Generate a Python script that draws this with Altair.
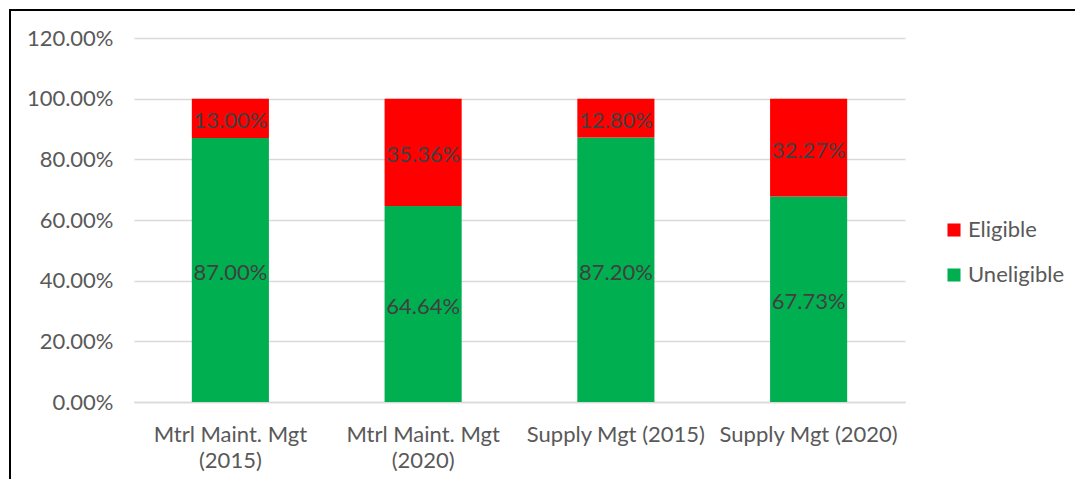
import altair as alt
import pandas as pd

categories = ["Mtrl Maint. Mgt\n(2015)", "Mtrl Maint. Mgt\n(2020)", "Supply Mgt (2015)", "Supply Mgt (2020)"]
uneligible = [0.8700, 0.6464, 0.8720, 0.6773]
eligible = [0.1300, 0.3536, 0.1280, 0.3227]
series = ["Eligible", "Uneligible"]
colors = ["#FF0000", "#00B050"]

rows = []
for c, u, e in zip(categories, uneligible, eligible):
    rows.append({"category": c, "series": "Uneligible", "value": u, "ord": 0})
    rows.append({"category": c, "series": "Eligible", "value": e, "ord": 1})
df = pd.DataFrame(rows)

FONT = "Lato"
FS = 22
W, H = 771, 364

base = alt.Chart(df).transform_stack(
    stack="value", groupby=["category"], as_=["y0", "y1"], sort=[alt.SortField("ord")]
).transform_calculate(mid="(datum.y0 + datum.y1) / 2")

xenc = alt.X(
    "category:N", sort=categories, title=None,
    scale=alt.Scale(paddingInner=0.6, paddingOuter=0.3),
    axis=alt.Axis(labelAngle=0, labelExpr="split(datum.value, '\\n')", labelFontSize=FS,
                  labelColor="#595959", labelFont=FONT, labelPadding=22, ticks=False,
                  domainColor="#D9D9D9", domainWidth=1.3, labelLineHeight=26, grid=False,
                  labelBaseline="top"),
)

bars = base.mark_bar().encode(
    x=xenc,
    y=alt.Y("y0:Q", title=None, scale=alt.Scale(domain=[0, 1.2]),
            axis=alt.Axis(format=".2%", values=[0, 0.2, 0.4, 0.6, 0.8, 1.0, 1.2], labelFontSize=FS,
                          labelColor="#595959", labelFont=FONT, labelPadding=21, ticks=False,
                          domain=False, gridColor="#D9D9D9", gridWidth=1.3)),
    y2="y1:Q",
    color=alt.Color("series:N", scale=alt.Scale(domain=series, range=colors),
                    legend=alt.Legend(title=None, orient="none", legendX=809, legendY=181,
                                      symbolType="square", symbolSize=170, symbolStrokeWidth=0,
                                      labelFontSize=FS, labelColor="#595959", labelFont=FONT,
                                      rowPadding=23, symbolOffset=0, labelOffset=3)),
)

labels = base.mark_text(fontSize=FS, color="#404040", font=FONT, baseline="middle", dy=3).encode(
    x=alt.X("category:N", sort=categories),
    y=alt.Y("mid:Q"),
    text=alt.Text("value:Q", format=".2%"),
)

frame_top = alt.Chart(df).mark_rule(color="#000000", strokeWidth=2, clip=False).encode(
    x=alt.value(-125), x2=alt.value(1100), y=alt.value(-28)
)
frame_left = alt.Chart(df).mark_rule(color="#000000", strokeWidth=2, clip=False).encode(
    x=alt.value(-124), y=alt.value(-29), y2=alt.value(500)
)

chart = alt.layer(bars, labels, frame_top, frame_left).properties(
    width=W, height=H,
    autosize=alt.AutoSizeParams(type="none"),
    padding={"left": 126, "top": 30, "right": 170, "bottom": 77},
    background="white",
).configure_view(stroke=None)

chart.save("out.html", embed_options={"renderer": "svg", "actions": False})
